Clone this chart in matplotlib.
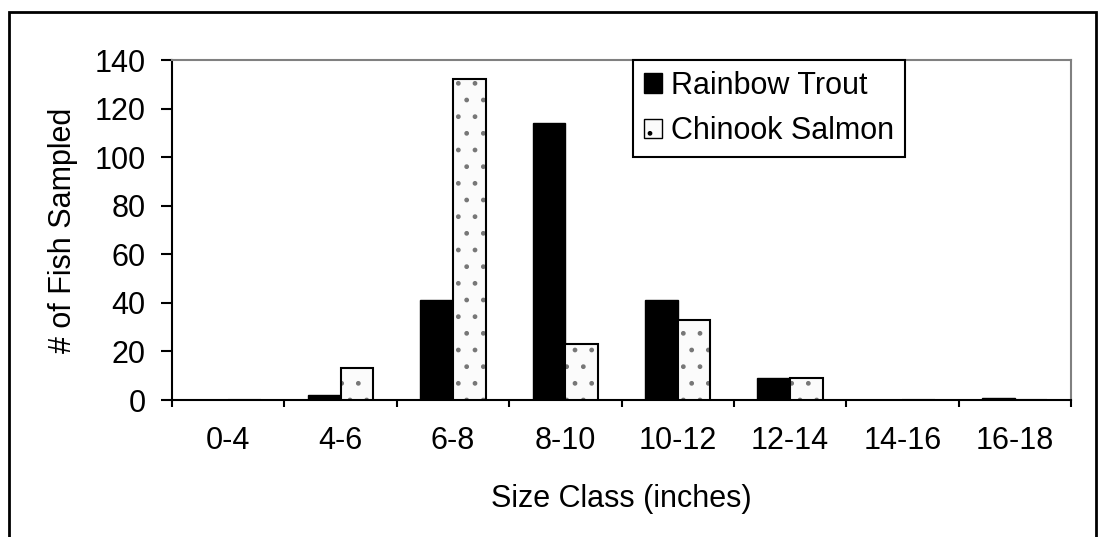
import numpy as np
import matplotlib
matplotlib.use("Agg")
import matplotlib.pyplot as plt
from matplotlib.patches import Rectangle

plt.rcParams['font.family'] = ['Liberation Sans', 'DejaVu Sans']
plt.rcParams['font.size'] = 22

# Fish counts per size class
size_classes = ['0-4', '4-6', '6-8', '8-10', '10-12', '12-14', '14-16', '16-18']
rainbow_trout = [0, 2, 41, 114, 41, 9, 0, 1]
chinook_salmon = [0, 13, 132, 23, 33, 9, 0, 0]

fig = plt.figure(figsize=(11.02, 5.37), dpi=100)
ax = fig.add_axes([172 / 1102, 1 - 400 / 537, 899 / 1102, 340 / 537])

# outer frame around the whole chart
fig.patches.append(Rectangle((9 / 1102, -0.05), 1087 / 1102, 1.05 - 12 / 537,
                             transform=fig.transFigure, fill=False,
                             edgecolor='black', linewidth=2))

x = np.arange(len(size_classes)) + 0.5
w = 0.29

ax.bar(x - w / 2, rainbow_trout, w, color='black', edgecolor='black',
       linewidth=1, label='Rainbow Trout', zorder=3)
ax.bar(x + w / 2, chinook_salmon, w, color='#fbfbfb', edgecolor='#777777',
       hatch='.', linewidth=0, zorder=3)
ax.bar(x + w / 2, chinook_salmon, w, fill=False, edgecolor='black',
       linewidth=1.5, zorder=4)

ax.set_xlim(0, len(size_classes))
ax.set_ylim(0, 140)
ax.set_yticks(np.arange(0, 141, 20))

ax.set_xticks(x)
ax.set_xticklabels(size_classes)
ax.set_xticks(np.arange(len(size_classes) + 1), minor=True)
ax.tick_params(axis='x', which='major', length=0, pad=19)
ax.tick_params(axis='x', which='minor', length=5, width=1.5, direction='out')
ax.tick_params(axis='y', length=8, width=1.5, direction='out', pad=11)

for side in ['top', 'right']:
    ax.spines[side].set_color('#808080')
    ax.spines[side].set_linewidth(1.5)
for side in ['left', 'bottom']:
    ax.spines[side].set_color('black')
    ax.spines[side].set_linewidth(1.5)

ax.set_xlabel('Size Class (inches)', labelpad=20)
ax.set_ylabel('# of Fish Sampled', labelpad=12)

# legend with small square swatches
h1 = Rectangle((0, 0), 1, 1, facecolor='black', edgecolor='black')
h2 = Rectangle((0, 0), 1, 1, facecolor='#fbfbfb', edgecolor='black',
               hatch='.', linewidth=1)
leg = ax.legend([h1, h2], ['Rainbow Trout', 'Chinook Salmon'],
                loc='upper left', bbox_to_anchor=(633 / 1102, 1 - 60 / 537),
                bbox_transform=fig.transFigure, fancybox=False,
                edgecolor='black', framealpha=1, handlelength=0.6,
                handleheight=0.6, handletextpad=0.3, borderpad=0.35,
                labelspacing=0.5, borderaxespad=0)
leg.get_frame().set_linewidth(1.5)
leg.set_zorder(5)

fig.savefig('out.png', dpi=100)
